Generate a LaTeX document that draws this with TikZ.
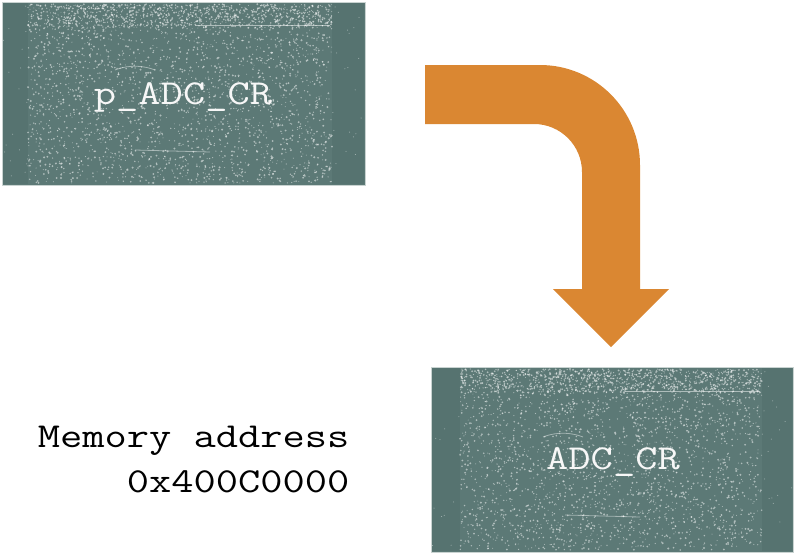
\documentclass[tikz,border=0pt]{standalone}
\usepackage{fontspec}
\definecolor{boxfill}{HTML}{5C7976}
\definecolor{boxside}{HTML}{567370}
\definecolor{boxedge}{HTML}{C9D3D1}
\definecolor{arroworange}{HTML}{DA8732}
\newcommand\courfont{\ttfamily\fontsize{35}{45}\selectfont}
\newcommand\wide[1]{\scalebox{1.235}[1]{#1}}
\begin{document}
\begin{tikzpicture}[x=1pt,y=1pt,
  regbox/.style={fill=boxfill,draw=boxedge,line width=0.8pt},
  speck/.style={fill=white,opacity=0.5},
  regtext/.style={font=\courfont,text=white!94!gray},
  plaintext/.style={font=\courfont,text=black,align=right}]
\useasboundingbox (0,0) rectangle (796,-555);
\pgfmathsetseed{17}
% top-left box
\draw[regbox] (2,-2) rectangle (365,-185);
\fill[boxside] (3,-3) rectangle (28,-184);
\fill[boxside] (332,-3) rectangle (364,-184);
\foreach \i in {1,...,2300}{
  \pgfmathsetmacro{\px}{28+304*rnd}
  \pgfmathsetmacro{\py}{-(4+179*rnd)}
  \pgfmathsetmacro{\pr}{0.45+0.65*rnd}
  \fill[speck] (\px,\py) circle (\pr pt);
}
\foreach \i in {1,...,800}{
  \pgfmathsetmacro{\px}{28+304*rnd}
  \pgfmathsetmacro{\py}{-(4+24*rnd)}
  \pgfmathsetmacro{\pr}{0.45+0.65*rnd}
  \fill[speck] (\px,\py) circle (\pr pt);
}
\foreach \i in {1,...,200}{
  \pgfmathsetmacro{\px}{3+361*rnd}
  \pgfmathsetmacro{\py}{-(4+179*rnd)}
  \fill[speck] (\px,\py) circle (0.5pt);
}
\draw[white,opacity=0.5,line width=0.8pt] (195,-25) -- (330,-25);
\draw[white,opacity=0.45,line width=0.8pt] (135,-150) -- (210,-152);
\draw[white,opacity=0.45,line width=0.8pt] (115,-70) .. controls (130,-64) and (145,-66) .. (155,-70);
\node[regtext] (src) at (183,-97) {\wide{p\_ADC\_CR}};
% bottom-right box
\draw[regbox] (431,-367) rectangle (793,-552);
\fill[boxside] (432,-368) rectangle (460,-551);
\fill[boxside] (762,-368) rectangle (792,-551);
\foreach \i in {1,...,2300}{
  \pgfmathsetmacro{\px}{460+302*rnd}
  \pgfmathsetmacro{\py}{-(369+181*rnd)}
  \pgfmathsetmacro{\pr}{0.45+0.65*rnd}
  \fill[speck] (\px,\py) circle (\pr pt);
}
\foreach \i in {1,...,800}{
  \pgfmathsetmacro{\px}{460+302*rnd}
  \pgfmathsetmacro{\py}{-(369+24*rnd)}
  \pgfmathsetmacro{\pr}{0.45+0.65*rnd}
  \fill[speck] (\px,\py) circle (\pr pt);
}
\foreach \i in {1,...,200}{
  \pgfmathsetmacro{\px}{432+360*rnd}
  \pgfmathsetmacro{\py}{-(369+181*rnd)}
  \fill[speck] (\px,\py) circle (0.5pt);
}
\draw[white,opacity=0.5,line width=0.8pt] (625,-391) -- (760,-391);
\draw[white,opacity=0.45,line width=0.8pt] (565,-515) -- (640,-517);
\draw[white,opacity=0.45,line width=0.8pt] (543,-437) .. controls (558,-431) and (573,-433) .. (583,-437);
\node[regtext] (dst) at (613,-462) {\wide{ADC\_CR}};
% bent arrow
\fill[arroworange] (425,-65) -- (540,-65) arc[start angle=90,end angle=0,radius=100pt]
  -- (640,-289) -- (669,-289) -- (611,-347) -- (553,-289) -- (582,-289)
  -- (582,-172) arc[start angle=0,end angle=90,radius=48pt] -- (425,-124) -- cycle;
% address label
\node[plaintext,anchor=east] (addr) at (353,-460) {\wide{Memory address}\\\wide{0x400C0000}};
\end{tikzpicture}
\end{document}
